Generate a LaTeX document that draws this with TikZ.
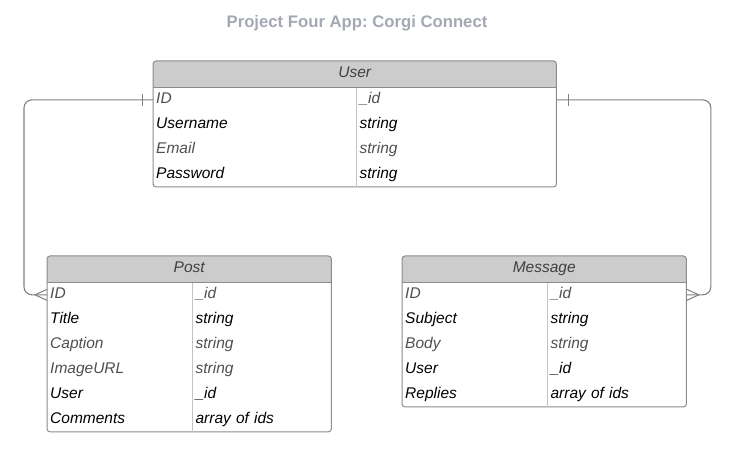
\documentclass[tikz,border=0pt]{standalone}
\usepackage{fontspec}
\setmainfont{Liberation Sans}
\usetikzlibrary{positioning,backgrounds}
\frenchspacing

\definecolor{headgray}{HTML}{CCCCCC}
\definecolor{framegray}{HTML}{8C8C8C}
\definecolor{divgray}{HTML}{C4C4C4}
\definecolor{linkgray}{HTML}{808080}
\definecolor{softtext}{HTML}{4F4F4F}
\definecolor{titlegray}{HTML}{A3A8B2}

\begin{document}
\begin{tikzpicture}[
    x=1pt, y=-1pt,
    head/.style={rectangle, anchor=north west, minimum height=26pt, inner sep=0pt,
                 text height=11pt, text depth=3.5pt,
                 font=\fontsize{15.5}{18}\selectfont\itshape, text=black!75},
    cell/.style={rectangle, anchor=north west, minimum height=24.5pt, inner xsep=3pt,
                 inner ysep=0pt, text height=11pt, text depth=3.5pt, align=left,
                 font=\fontsize{15.5}{18}\selectfont\itshape},
    soft/.style={text=softtext},
    userkey/.style={cell, text width=197pt},
    userval/.style={cell, text width=194pt},
    key/.style={cell, text width=139pt},
    val/.style={cell, text width=133pt},
    frame/.style={draw=framegray, line width=1pt, rounded corners=3pt},
    divider/.style={draw=divgray, line width=1pt},
    link/.style={draw=linkgray, line width=1.1pt, rounded corners=8pt},
    tickline/.style={draw=linkgray, line width=1pt}
]
\useasboundingbox (0,0) rectangle (732,454);

\node[font=\bfseries\fontsize{16.7}{20}\selectfont, text=titlegray] (title) at (357,23)
     {Project Four App: Corgi Connect};

%% User table
\node[head, minimum width=403pt] (user) at (153,61) {User};
\node[userkey, soft] (user-id)    at (user.south west)     {ID};
\node[userkey]       (user-name)  at (user-id.south west)  {Username};
\node[userkey, soft] (user-mail)  at (user-name.south west) {Email};
\node[userkey]       (user-pass)  at (user-mail.south west) {Password};
\node[userval, soft] (user-idv)   at (user-id.north east)   {\_id};
\node[userval]       (user-namev) at (user-name.north east) {string};
\node[userval, soft] (user-mailv) at (user-mail.north east) {string};
\node[userval]       (user-passv) at (user-pass.north east) {string};

%% Post table
\node[head, minimum width=284pt] (post) at (47,256) {Post};
\node[key, soft] (post-id)    at (post.south west)       {ID};
\node[key]       (post-title) at (post-id.south west)    {Title};
\node[key, soft] (post-cap)   at (post-title.south west) {Caption};
\node[key, soft] (post-img)   at (post-cap.south west)   {ImageURL};
\node[key]       (post-user)  at (post-img.south west)   {User};
\node[key]       (post-com)   at (post-user.south west)  {Comments};
\node[val, soft] (post-idv)    at (post-id.north east)    {\_id};
\node[val]       (post-titlev) at (post-title.north east) {string};
\node[val, soft] (post-capv)   at (post-cap.north east)   {string};
\node[val, soft] (post-imgv)   at (post-img.north east)   {string};
\node[val]       (post-userv)  at (post-user.north east)  {\_id};
\node[val]       (post-comv)   at (post-com.north east)   {array of ids};

%% Message table
\node[head, minimum width=284pt] (msg) at (402,256) {Message};
\node[key, soft] (msg-id)    at (msg.south west)      {ID};
\node[key]       (msg-subj)  at (msg-id.south west)   {Subject};
\node[key, soft] (msg-body)  at (msg-subj.south west) {Body};
\node[key]       (msg-user)  at (msg-body.south west) {User};
\node[key]       (msg-rep)   at (msg-user.south west) {Replies};
\node[val, soft] (msg-idv)   at (msg-id.north east)   {\_id};
\node[val]       (msg-subjv) at (msg-subj.north east) {string};
\node[val, soft] (msg-bodyv) at (msg-body.north east) {string};
\node[val]       (msg-userv) at (msg-user.north east) {\_id};
\node[val]       (msg-repv)  at (msg-rep.north east)  {array of ids};

%% header fills
\begin{scope}[on background layer]
  \foreach \t in {user, post, msg} {
    \fill[headgray, rounded corners=3pt] (\t.north west) rectangle (\t.south east);
    \fill[headgray] ([yshift=4pt]\t.south west) rectangle (\t.south east);
  }
\end{scope}

%% frames and dividers
\draw[frame] (user.north west) rectangle (user-pass.south -| user.east);
\draw[frame] (post.north west) rectangle (post-com.south -| post.east);
\draw[frame] (msg.north west)  rectangle (msg-rep.south -| msg.east);
\draw[divider] (user-idv.north west) -- (user-passv.south west);
\draw[divider] (post-idv.north west) -- (post-comv.south west);
\draw[divider] (msg-idv.north west)  -- (msg-repv.south west);
\foreach \t in {user, post, msg}
  \draw[framegray, line width=1pt] (\t.south west) -- (\t.south east);

%% User -> Post (one to many)
\draw[link] (user-id.west) -| ([xshift=-23pt]post-id.west) -- (post-id.west);
\draw[tickline] ([xshift=-11pt, yshift=6pt]user-id.west) -- ([xshift=-11pt, yshift=-6pt]user-id.west);
\draw[tickline] ([yshift=5.5pt]post-id.west) -- ([xshift=-12pt]post-id.west)
                -- ([yshift=-5.5pt]post-id.west);

%% User -> Message (one to many)
\draw[link] (user-idv.east) -| ([xshift=24pt]msg-idv.east) -- (msg-idv.east);
\draw[tickline] ([xshift=12pt, yshift=6pt]user-idv.east) -- ([xshift=12pt, yshift=-6pt]user-idv.east);
\draw[tickline] ([yshift=5.5pt]msg-idv.east) -- ([xshift=12pt]msg-idv.east)
                -- ([yshift=-5.5pt]msg-idv.east);

\end{tikzpicture}
\end{document}
